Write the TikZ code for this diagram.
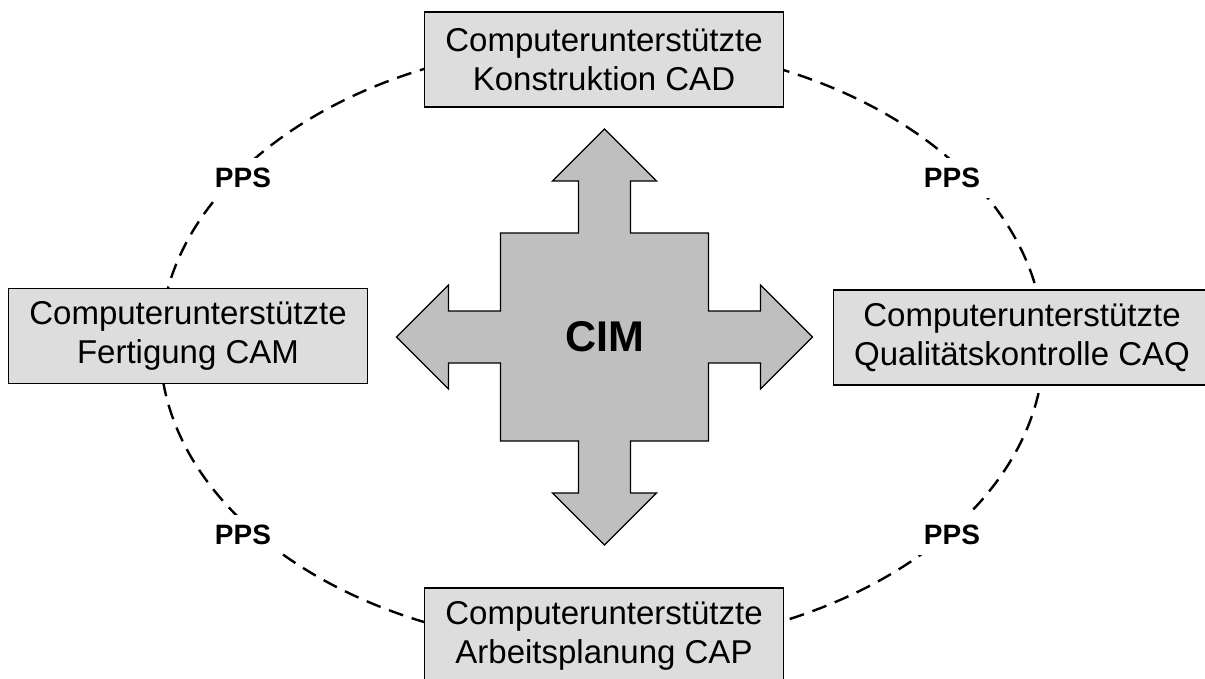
\documentclass[tikz,border=0pt]{standalone}
\usepackage{fontspec}
\setmainfont{Liberation Sans}
\usepackage{tikz}

\begin{document}
\begin{tikzpicture}[x=1pt,y=-1pt,
  modul/.style={draw,line width=1.3pt,fill=gray!27,align=center,
    font=\fontsize{33}{39}\selectfont,inner xsep=21pt,minimum height=95pt},
  pps/.style={fill=white,font=\fontsize{28}{30}\selectfont\bfseries,inner sep=10pt},
  ring/.style={line width=2.4pt,dash pattern=on 15pt off 9pt}]
\useasboundingbox (0,0) rectangle (1205,679);
\coordinate (mitte) at (602,345.5);
\draw[ring] (mitte) ellipse (442 and 302);
\node[pps] (ppsol) at (243,178) {PPS};
\node[pps] (ppsor) at (952,178) {PPS};
\node[pps] (ppsul) at (243,535) {PPS};
\node[pps] (ppsur) at (952,535) {PPS};
\node[modul] (cad) at (604,59.5) {Computerunterstützte\\Konstruktion CAD};
\node[modul] (cam) at (188,336) {Computerunterstützte\\Fertigung CAM};
\node[modul] (caq) at (1022,337.5) {Computerunterstützte\\Qualitätskontrolle CAQ};
\node[modul] (cap) at (604,635.5) {Computerunterstützte\\Arbeitsplanung CAP};
% Kreuz mit vier Pfeilen
\begin{scope}[shift={(604.5,337)},x=26pt,y=-26pt]
\draw[line width=1.3pt,fill=gray!50]
  (0,-8) -- (2,-6) -- (1,-6) -- (1,-4) -- (4,-4) -- (4,-1) -- (6,-1) -- (6,-2)
  -- (8,0) -- (6,2) -- (6,1) -- (4,1) -- (4,4) -- (1,4) -- (1,6) -- (2,6)
  -- (0,8) -- (-2,6) -- (-1,6) -- (-1,4) -- (-4,4) -- (-4,1) -- (-6,1) -- (-6,2)
  -- (-8,0) -- (-6,-2) -- (-6,-1) -- (-4,-1) -- (-4,-4) -- (-1,-4) -- (-1,-6) -- (-2,-6)
  -- cycle;
\end{scope}
\node[font=\fontsize{43}{45}\selectfont\bfseries] (cim) at (604.5,337) {CIM};
\end{tikzpicture}
\end{document}
